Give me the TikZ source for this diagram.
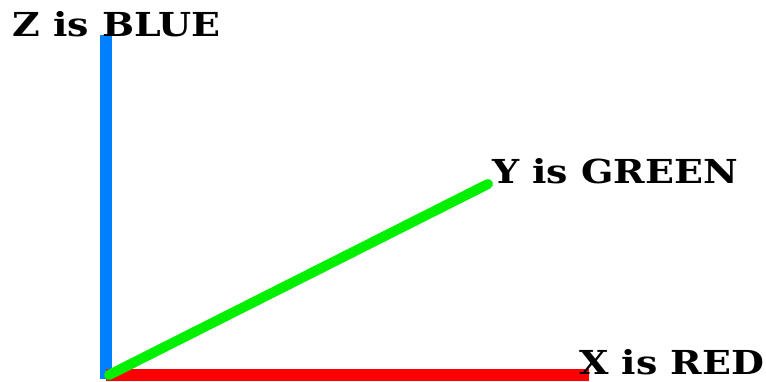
\documentclass[tikz,border=0pt]{standalone}
\usepackage{fontspec}
\setmainfont{DejaVu Serif}[FakeStretch=1.15]
\usetikzlibrary{positioning}
\definecolor{zaxis}{HTML}{0080FF}
\definecolor{yaxis}{HTML}{00F000}
\definecolor{xaxis}{HTML}{FF0000}
\tikzset{
  axislabel/.style={anchor=base west, inner sep=0pt, font=\fontsize{33}{33}\selectfont\bfseries},
}
\begin{document}
\begin{tikzpicture}[x=1pt, y=-1pt]
    \useasboundingbox (0,0) rectangle (766,381);
    \coordinate (origin) at (106,375);
    \coordinate (zTip) at (106,35);
    \coordinate (yTip) at (488,184);
    \coordinate (xTip) at (589,375);
    % axes
    \draw[zaxis, line width=12pt] ([yshift=-4pt]origin) -- (zTip);
    \draw[xaxis, line width=12pt] (origin) -- (xTip);
    \draw[yaxis, line width=10pt, line cap=round] ([xshift=3pt]origin) -- (yTip);
    % labels
    \node[axislabel] (zLabel) at (12,36) {Z is BLUE};
    \node[axislabel] (yLabel) at (492,183) {Y is GREEN};
    \node[axislabel] (xLabel) at (579,374) {X is RED};
  \end{tikzpicture}
\end{document}
